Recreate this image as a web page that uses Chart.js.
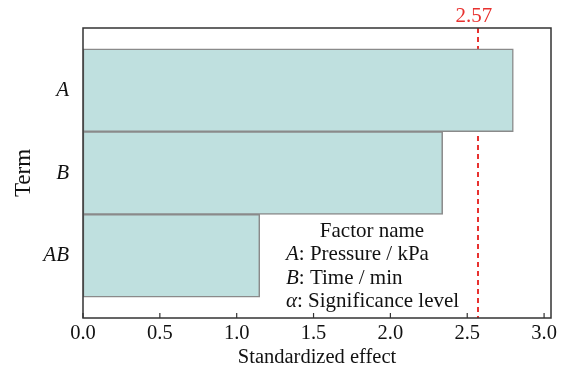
<!DOCTYPE html>
<html>
<head>
<meta charset="utf-8">
<script src="https://cdn.jsdelivr.net/npm/chart.js@4.4.1/dist/chart.umd.min.js"></script>
<style>
  html, body { margin: 0; padding: 0; background: #fff; }
  #wrap { width: 565px; height: 374px; }
</style>
</head>
<body>
<div id="wrap"><canvas id="grafico"></canvas></div>
<script>
// dados do grafico
const termos = ['A', 'B', 'AB'];
const efeitos = [2.80, 2.34, 1.15];
const limite = 2.57; // linha de significancia
const xTicks = [0.0, 0.5, 1.0, 1.5, 2.0, 2.5, 3.0];
const legendaLinhas = [
  ['', 'Factor name'],
  ['A', ': Pressure / kPa'],
  ['B', ': Time / min'],
  ['\u03b1', ': Significance level']
];

const serif = '"Liberation Serif", "Times New Roman", serif';

const pontos = efeitos.map((v, i) => ({ x: v, y: i }));

// plugin para moldura, linha vermelha, ticks internos e legenda
const extras = {
  id: 'extras',
  beforeDatasetsDraw(chart) {
    const { ctx, chartArea: a, scales } = chart;
    const x = scales.x.getPixelForValue(limite);
    ctx.save();
    ctx.strokeStyle = '#e8312f';
    ctx.lineWidth = 2;
    ctx.setLineDash([5, 4]);
    ctx.beginPath();
    ctx.moveTo(x, a.top);
    ctx.lineTo(x, a.bottom);
    ctx.stroke();
    ctx.restore();
  },
  afterDraw(chart) {
    const { ctx, chartArea: a, scales } = chart;
    ctx.save();
    // moldura
    ctx.strokeStyle = '#333';
    ctx.lineWidth = 1.5;
    ctx.strokeRect(a.left, a.top, a.right - a.left, a.bottom - a.top);
    // ticks para dentro
    ctx.lineWidth = 1.2;
    xTicks.forEach(v => {
      const px = scales.x.getPixelForValue(v);
      ctx.beginPath();
      ctx.moveTo(px, a.bottom);
      ctx.lineTo(px, a.bottom - 5);
      ctx.stroke();
    });
    // rotulo 2.57
    const xl = scales.x.getPixelForValue(limite);
    ctx.fillStyle = '#e8312f';
    ctx.font = '21px ' + serif;
    ctx.textAlign = 'center';
    ctx.textBaseline = 'middle';
    ctx.fillText(limite.toFixed(2), xl - 4, 16);
    // legenda
    ctx.fillStyle = '#111';
    ctx.textAlign = 'left';
    const x0 = 286;
    let y = 231;
    legendaLinhas.forEach(([it, resto], i) => {
      if (i === 0) {
        ctx.font = '21px ' + serif;
        ctx.textAlign = 'center';
        ctx.fillText(resto, 372, y);
        ctx.textAlign = 'left';
      } else {
        ctx.font = 'italic 21px ' + serif;
        ctx.fillText(it, x0, y);
        const w = ctx.measureText(it).width;
        ctx.font = '21px ' + serif;
        ctx.fillText(resto, x0 + w, y);
      }
      y += 23.6;
    });
    ctx.restore();
  }
};

new Chart(document.getElementById('grafico'), {
  type: 'bar',
  data: {
    datasets: [{
      data: pontos,
      backgroundColor: '#bfe0df',
      borderColor: '#8a8a8a',
      borderWidth: 1.5,
      borderSkipped: false,
      barPercentage: 1,
      categoryPercentage: 1
    }]
  },
  options: {
    indexAxis: 'y',
    responsive: true,
    maintainAspectRatio: false,
    animation: false,
    layout: { padding: { top: 28, right: 14, left: 0, bottom: 0 } },
    plugins: { legend: { display: false }, tooltip: { enabled: false } },
    scales: {
      x: {
        type: 'linear',
        min: 0,
        max: 3.045,
        grid: { display: false, drawTicks: false },
        border: { display: false },
        afterBuildTicks: s => { s.ticks = xTicks.map(v => ({ value: v })); },
        afterFit: s => { s.height = 56; },
        ticks: {
          padding: 3,
          color: '#111',
          font: { family: serif, size: 20.5 },
          callback: v => Number(v).toFixed(1)
        },
        title: {
          display: true,
          text: 'Standardized effect',
          color: '#111',
          font: { family: serif, size: 20.5 },
          padding: { top: 0, bottom: 4 }
        }
      },
      y: {
        type: 'linear',
        reverse: true,
        offset: false,
        min: -0.75,
        max: 2.75,
        grid: { display: false, drawTicks: false },
        border: { display: false },
        afterBuildTicks: s => { s.ticks = termos.map((t, i) => ({ value: i })); },
        afterFit: s => { s.width = 83; },
        ticks: {
          padding: 14,
          color: '#111',
          font: { family: serif, size: 21, style: 'italic' },
          callback: v => termos[v]
        },
        title: {
          display: true,
          text: 'Term',
          color: '#111',
          font: { family: serif, size: 23 },
          padding: { top: 10, bottom: 0 }
        }
      }
    }
  },
  plugins: [extras]
});
</script>
</body>
</html>
